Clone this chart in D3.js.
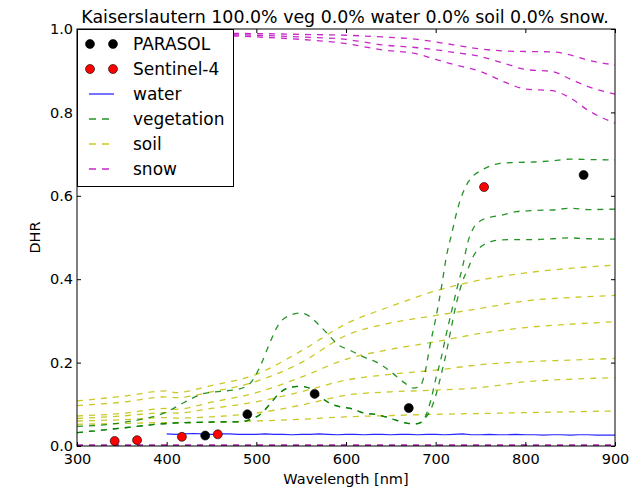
<!DOCTYPE html>
<html>
<head>
<meta charset="utf-8">
<script src="https://cdn.jsdelivr.net/npm/d3@7"></script>
<style>
  html, body { margin: 0; padding: 0; background: #fff; }
  svg { display: block; font-family: "DejaVu Sans", sans-serif; }
</style>
</head>
<body>
<svg id="chart" width="636" height="488"></svg>
<script>
// ---- data ----
const titleText = "Kaiserslautern 100.0% veg 0.0% water 0.0% soil 0.0% snow.";
const xTicks = [300, 400, 500, 600, 700, 800, 900];
const yTicks = [0.0, 0.2, 0.4, 0.6, 0.8, 1.0];

// satellite band samples
const parasolWl  = [443, 490, 565, 670, 865];
const parasolDhr = [0.025, 0.076, 0.125, 0.091, 0.650];
const s4Wl  = [342, 367, 417, 457, 754];
const s4Dhr = [0.012, 0.014, 0.022, 0.028, 0.621];

// water spectrum, 400-900 nm every 10 nm
const waterWl = d3.range(400, 901, 10);
const waterDhr = [
  0.029, 0.028, 0.029, 0.030, 0.029, 0.028, 0.029, 0.029, 0.028, 0.028,
  0.028, 0.029, 0.028, 0.028, 0.027, 0.028, 0.028, 0.029, 0.028, 0.027,
  0.028, 0.028, 0.027, 0.028, 0.028, 0.027, 0.028, 0.028, 0.027, 0.028,
  0.028, 0.027, 0.028, 0.029, 0.027, 0.027, 0.028, 0.027, 0.027, 0.028,
  0.027, 0.027, 0.026, 0.027, 0.027, 0.026, 0.027, 0.027, 0.026, 0.026, 0.026
];

// vegetation spectra
const vegWl = [300, 350, 400, 420, 440, 460, 480, 495, 505, 515, 525, 537, 550, 560,
  570, 580, 590, 605, 620, 635, 650, 665, 675, 682, 688, 694, 700, 706, 712, 718,
  724, 730, 736, 742, 750, 760, 772, 790, 810, 830, 850, 870, 900];
const vegA = [0.047, 0.056, 0.082, 0.105, 0.125, 0.131, 0.136, 0.155, 0.195, 0.247,
  0.292, 0.313, 0.319, 0.310, 0.290, 0.268, 0.245, 0.229, 0.213, 0.200, 0.178, 0.152,
  0.139, 0.142, 0.175, 0.245, 0.305, 0.375, 0.455, 0.510, 0.565, 0.605, 0.632, 0.648,
  0.660, 0.671, 0.678, 0.680, 0.681, 0.684, 0.688, 0.687, 0.686];
const vegB = [0.032, 0.043, 0.054, 0.056, 0.057, 0.058, 0.058, 0.065, 0.077, 0.100,
  0.125, 0.140, 0.143, 0.138, 0.120, 0.105, 0.096, 0.090, 0.079, 0.075, 0.066, 0.056,
  0.053, 0.055, 0.068, 0.105, 0.160, 0.210, 0.270, 0.325, 0.380, 0.430, 0.490, 0.522,
  0.540, 0.548, 0.553, 0.562, 0.565, 0.566, 0.570, 0.567, 0.568];
const vegC = [0.032, 0.043, 0.054, 0.056, 0.057, 0.058, 0.058, 0.065, 0.077, 0.100,
  0.125, 0.140, 0.143, 0.138, 0.120, 0.105, 0.096, 0.090, 0.079, 0.075, 0.066, 0.056,
  0.053, 0.055, 0.066, 0.085, 0.120, 0.170, 0.225, 0.290, 0.350, 0.395, 0.425, 0.455,
  0.477, 0.489, 0.494, 0.495, 0.495, 0.497, 0.499, 0.497, 0.496];

// soil spectra
const soilWl = [300, 350, 400, 410, 450, 500, 550, 600, 650, 700, 750, 800, 850, 900];
const soil1 = [0.108, 0.119, 0.132, 0.128, 0.145, 0.172, 0.228, 0.293, 0.335, 0.372, 0.398, 0.415, 0.426, 0.434];
const soil2 = [0.097, 0.105, 0.118, 0.116, 0.130, 0.155, 0.200, 0.265, 0.295, 0.313, 0.330, 0.348, 0.356, 0.361];
const soil3 = [0.072, 0.078, 0.090, 0.088, 0.105, 0.128, 0.165, 0.208, 0.232, 0.250, 0.270, 0.284, 0.292, 0.298];
const soil4 = [0.066, 0.072, 0.080, 0.079, 0.090, 0.106, 0.130, 0.158, 0.172, 0.182, 0.195, 0.202, 0.206, 0.210];
const soil5 = [0.060, 0.063, 0.068, 0.067, 0.070, 0.079, 0.098, 0.122, 0.130, 0.134, 0.140, 0.154, 0.160, 0.164];
const soil6 = [0.052, 0.054, 0.056, 0.056, 0.057, 0.060, 0.064, 0.070, 0.073, 0.076, 0.078, 0.080, 0.082, 0.084];

// snow spectra
const snowWl = [300, 400, 500, 550, 600, 640, 680, 700, 720, 750, 780, 800, 830, 850, 870, 900];
const snow1 = [0.990, 0.990, 0.989, 0.987, 0.985, 0.981, 0.975, 0.969, 0.962, 0.952, 0.947, 0.946, 0.945, 0.938, 0.925, 0.914];
const snow2 = [0.990, 0.988, 0.985, 0.981, 0.975, 0.962, 0.955, 0.950, 0.944, 0.934, 0.915, 0.903, 0.898, 0.880, 0.862, 0.844];
const snow3 = [0.990, 0.987, 0.981, 0.975, 0.965, 0.950, 0.940, 0.927, 0.915, 0.898, 0.870, 0.856, 0.852, 0.835, 0.805, 0.774];
const zeroWl = [300, 900];
const zeroDhr = [0.001, 0.001];

// ---- layout ----
const svg = d3.select("#chart");
const plotLeft = 77, plotRight = 615, plotTop = 29, plotBottom = 446;
const x = d3.scaleLinear().domain([300, 900]).range([plotLeft, plotRight]);
const y = d3.scaleLinear().domain([0, 1]).range([plotBottom, plotTop]);

const styles = {
  water: { color: "#0000ff", dash: null },
  veg:   { color: "#008000", dash: "6,6" },
  soil:  { color: "#bfbf00", dash: "6,6" },
  snow:  { color: "#bf00bf", dash: "6,6" }
};

svg.append("defs").append("clipPath").attr("id", "plotClip")
  .append("rect").attr("x", plotLeft).attr("y", plotTop)
  .attr("width", plotRight - plotLeft).attr("height", plotBottom - plotTop);

const plot = svg.append("g").attr("clip-path", "url(#plotClip)");

const line = d3.line().x(d => x(d[0])).y(d => y(d[1])).curve(d3.curveMonotoneX);
const straightLine = d3.line().x(d => x(d[0])).y(d => y(d[1]));

function drawSeries(wl, vals, st, width, gen) {
  plot.append("path")
    .datum(wl.map((w, i) => [w, vals[i]]))
    .attr("d", (gen || line))
    .attr("fill", "none")
    .attr("stroke", st.color)
    .attr("stroke-opacity", 0.85)
    .attr("stroke-width", width || 1.3)
    .attr("stroke-dasharray", st.dash);
}

drawSeries(zeroWl, zeroDhr, { color: "#a000a0", dash: "6,6" }, 2.6, straightLine);
drawSeries(waterWl, waterDhr, styles.water, 1.2, straightLine);
[soil1, soil2, soil3, soil4, soil5, soil6].forEach(s => drawSeries(soilWl, s, styles.soil));
[vegA, vegB, vegC].forEach(s => drawSeries(vegWl, s, styles.veg));
[snow1, snow2, snow3].forEach(s => drawSeries(snowWl, s, styles.snow));

// band points
function drawPoints(wl, vals, fill) {
  plot.selectAll(null).data(wl.map((w, i) => [w, vals[i]])).enter()
    .append("circle")
    .attr("cx", d => x(d[0])).attr("cy", d => y(d[1]))
    .attr("r", 4.5)
    .attr("fill", fill).attr("stroke", "#000").attr("stroke-width", 0.6);
}
drawPoints(parasolWl, parasolDhr, "#000");
drawPoints(s4Wl, s4Dhr, "#ff0000");

// ---- axes ----
const fmt = d3.format(".1f");
const axisFont = g => g.selectAll("text").attr("font-size", 14.5).attr("fill", "#000")
  .attr("font-family", "DejaVu Sans, sans-serif");

svg.append("g").attr("transform", `translate(0,${plotBottom})`)
  .call(d3.axisBottom(x).tickValues(xTicks).tickFormat(d3.format("d"))
    .tickSizeInner(-4).tickSizeOuter(0).tickPadding(7.5))
  .call(axisFont).call(g => g.select(".domain").remove());
svg.append("g").attr("transform", `translate(0,${plotTop})`)
  .call(d3.axisTop(x).tickValues(xTicks).tickFormat("")
    .tickSizeInner(-4).tickSizeOuter(0))
  .call(g => g.select(".domain").remove());
svg.append("g").attr("transform", `translate(${plotLeft},0)`)
  .call(d3.axisLeft(y).tickValues(yTicks).tickFormat(fmt)
    .tickSizeInner(-4).tickSizeOuter(0).tickPadding(4))
  .call(axisFont).call(g => g.select(".domain").remove());
svg.append("g").attr("transform", `translate(${plotRight},0)`)
  .call(d3.axisRight(y).tickValues(yTicks).tickFormat("")
    .tickSizeInner(-4).tickSizeOuter(0))
  .call(g => g.select(".domain").remove());

svg.append("rect").attr("x", plotLeft).attr("y", plotTop)
  .attr("width", plotRight - plotLeft).attr("height", plotBottom - plotTop)
  .attr("fill", "none").attr("stroke", "#000").attr("stroke-width", 1);

svg.append("text").attr("x", 345).attr("y", 23)
  .attr("text-anchor", "middle").attr("font-size", 17.4).text(titleText);
svg.append("text").attr("x", (plotLeft + plotRight) / 2).attr("y", 484)
  .attr("text-anchor", "middle").attr("font-size", 14.5).text("Wavelength [nm]");
svg.append("text").attr("transform", `translate(40,${(plotTop + plotBottom) / 2}) rotate(-90)`)
  .attr("text-anchor", "middle").attr("font-size", 14.5).text("DHR");

// ---- legend ----
const legendItems = [
  { label: "PARASOL", type: "point", color: "#000" },
  { label: "Sentinel-4", type: "point", color: "#ff0000" },
  { label: "water", type: "line", st: styles.water },
  { label: "vegetation", type: "line", st: styles.veg },
  { label: "soil", type: "line", st: styles.soil },
  { label: "snow", type: "line", st: styles.snow }
];
const lg = svg.append("g");
lg.append("rect").attr("x", plotLeft + 0.5).attr("y", plotTop + 0.5)
  .attr("width", 156).attr("height", 157)
  .attr("fill", "#fff").attr("stroke", "#000").attr("stroke-width", 1);
legendItems.forEach((it, i) => {
  const cy = 44 + i * 25;
  if (it.type === "point") {
    [90, 113].forEach(cx => lg.append("circle").attr("cx", cx).attr("cy", cy).attr("r", 4.5)
      .attr("fill", it.color).attr("stroke", "#000").attr("stroke-width", 0.6));
  } else {
    lg.append("line").attr("x1", 89).attr("x2", 114).attr("y1", cy).attr("y2", cy)
      .attr("stroke", it.st.color).attr("stroke-opacity", 0.85).attr("stroke-width", 1.3)
      .attr("stroke-dasharray", it.st.dash ? "7,6" : null);
  }
  lg.append("text").attr("x", 133).attr("y", cy + 6).attr("font-size", 17).text(it.label);
});
</script>
</body>
</html>
